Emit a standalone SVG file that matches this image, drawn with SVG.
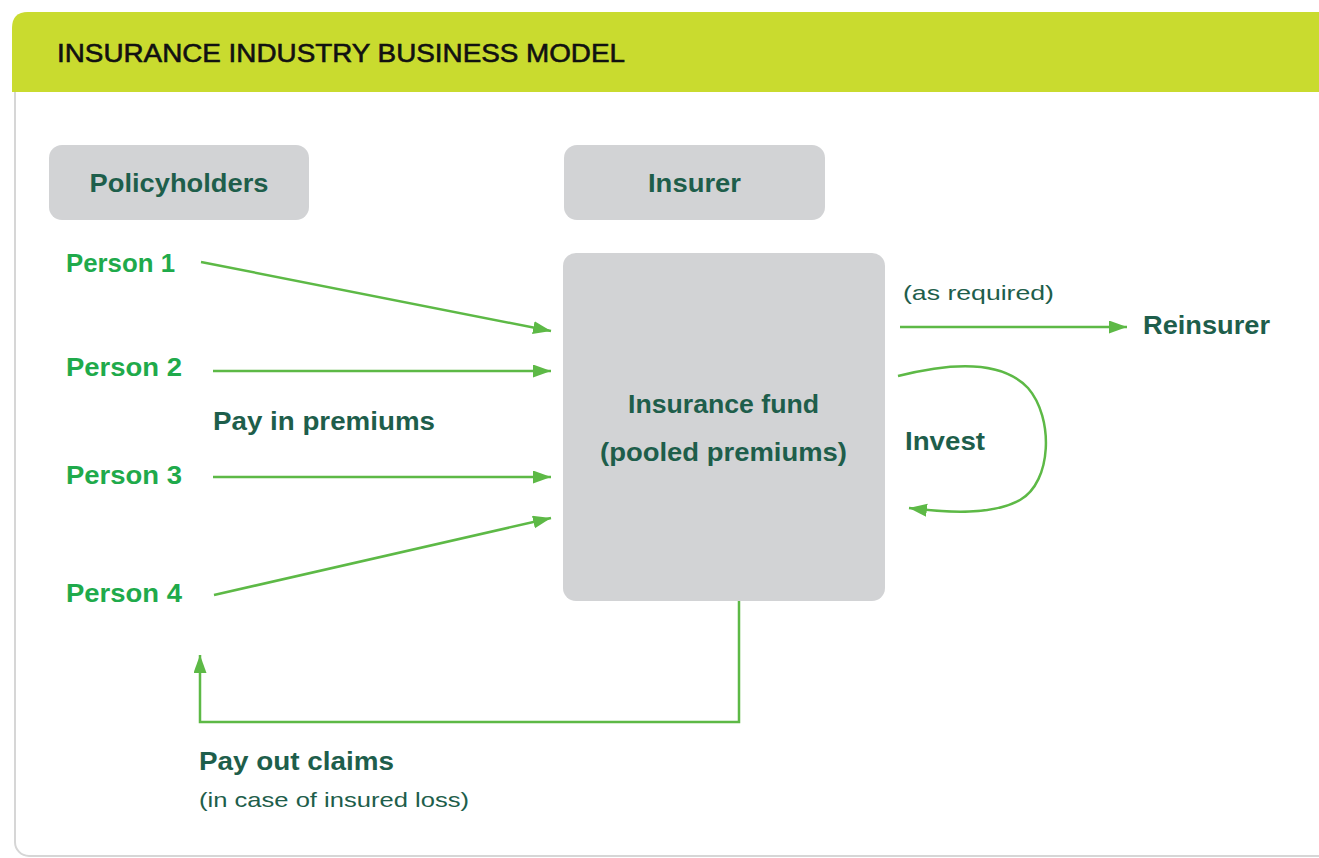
<svg xmlns="http://www.w3.org/2000/svg" width="1319" height="858" viewBox="0 0 1319 858">
<style>
.bold{font-family:"Liberation Sans",Arial,sans-serif;font-weight:bold;font-size:25px;fill:#1E5E4B}
.person{font-family:"Liberation Sans",Arial,sans-serif;font-weight:bold;font-size:25px;fill:#1FAA4B}
.reg{font-family:"Liberation Sans",Arial,sans-serif;font-size:21px;fill:#1E5E4B}
.title{font-family:"Liberation Sans",Arial,sans-serif;font-size:26px;fill:#111111;stroke:#111111;stroke-width:0.6}
.box{fill:#D2D3D5}
.conn{fill:none;stroke:#5DB946;stroke-width:2.5}
</style>
<defs>
<marker id="ah" markerUnits="userSpaceOnUse" markerWidth="20" markerHeight="14" refX="18" refY="6.5" orient="auto">
<path d="M0,0 L18,6.5 L0,13 z" fill="#5DB946"/>
</marker>
</defs>
<g id="frame">
<rect x="15" y="13" width="1420" height="843" rx="14" fill="#FFFFFF" stroke="#D6D6D6" stroke-width="2"/>
<path d="M12,92 V28 Q12,12 28,12 H1319 V92 Z" fill="#C9DB2F"/>
<text class="title" x="57" y="62" textLength="568" lengthAdjust="spacingAndGlyphs">INSURANCE INDUSTRY BUSINESS MODEL</text>
</g>
<g id="policyholders">
<rect class="box" x="49" y="145" width="260" height="75" rx="13"/>
<text class="bold" x="179" y="192" text-anchor="middle" textLength="179" lengthAdjust="spacingAndGlyphs">Policyholders</text>
</g>
<g id="insurer">
<rect class="box" x="564" y="145" width="261" height="75" rx="13"/>
<text class="bold" x="694.5" y="192" text-anchor="middle" textLength="93" lengthAdjust="spacingAndGlyphs">Insurer</text>
</g>
<g id="fund">
<rect class="box" x="563" y="253" width="322" height="348" rx="13"/>
<text class="bold" x="723.5" y="413" text-anchor="middle" textLength="191" lengthAdjust="spacingAndGlyphs">Insurance fund</text>
<text class="bold" x="723.5" y="461" text-anchor="middle" textLength="247" lengthAdjust="spacingAndGlyphs">(pooled premiums)</text>
</g>
<g id="person1"><text class="person" x="66" y="272" textLength="109" lengthAdjust="spacingAndGlyphs">Person 1</text></g>
<g id="person2"><text class="person" x="66" y="376" textLength="116" lengthAdjust="spacingAndGlyphs">Person 2</text></g>
<g id="person3"><text class="person" x="66" y="484" textLength="116" lengthAdjust="spacingAndGlyphs">Person 3</text></g>
<g id="person4"><text class="person" x="66" y="602" textLength="116" lengthAdjust="spacingAndGlyphs">Person 4</text></g>
<g id="reinsurer"><text class="bold" x="1143" y="334" textLength="127" lengthAdjust="spacingAndGlyphs">Reinsurer</text></g>
<g id="connectors">
<line class="conn" x1="201" y1="262" x2="551" y2="331" marker-end="url(#ah)"/>
<line class="conn" x1="213" y1="371" x2="551" y2="371" marker-end="url(#ah)"/>
<line class="conn" x1="213" y1="477" x2="551" y2="477" marker-end="url(#ah)"/>
<line class="conn" x1="214" y1="595" x2="551" y2="518" marker-end="url(#ah)"/>
<line class="conn" x1="900" y1="327" x2="1127" y2="327" marker-end="url(#ah)"/>
<path class="conn" d="M898,376 C945,364 1000,358 1028,388 C1054,418 1052,482 1020,500 C992,515 950,513 909,508" marker-end="url(#ah)"/>
<path class="conn" d="M739,601 V722 H200 V655" marker-end="url(#ah)"/>
<text class="bold" x="213" y="430" textLength="222" lengthAdjust="spacingAndGlyphs">Pay in premiums</text>
<text class="reg" x="903" y="300" textLength="151" lengthAdjust="spacingAndGlyphs">(as required)</text>
<text class="bold" x="905" y="450" textLength="80" lengthAdjust="spacingAndGlyphs">Invest</text>
<text class="bold" x="199" y="770" textLength="195" lengthAdjust="spacingAndGlyphs">Pay out claims</text>
<text class="reg" x="199" y="807" textLength="270" lengthAdjust="spacingAndGlyphs">(in case of insured loss)</text>
</g>
</svg>
